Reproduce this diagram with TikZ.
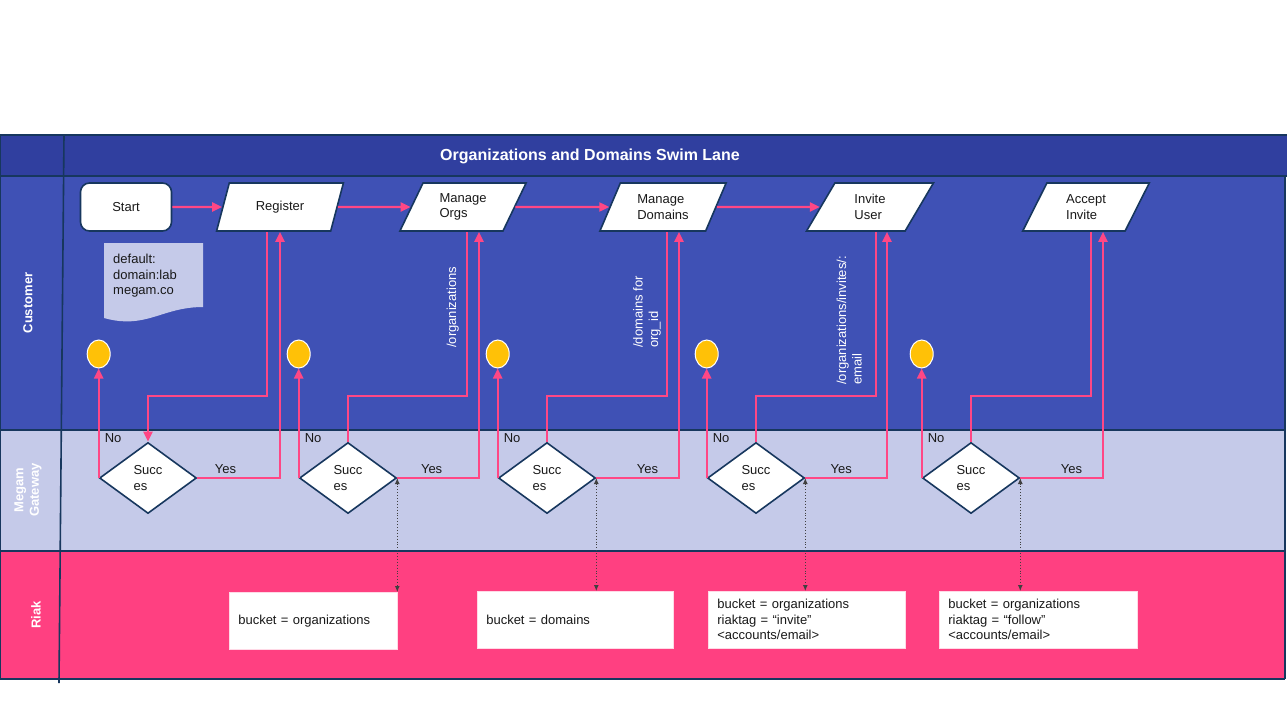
\documentclass[tikz,border=0pt]{standalone}
\usepackage{fontspec}
\setsansfont{Liberation Sans}
\RequirePackage{xcolor}
\tikzset{every picture/.style={/utils/exec={\sffamily}}}
\usetikzlibrary{calc}
\usetikzlibrary{positioning}
\usetikzlibrary{shapes.geometric}
\usetikzlibrary{arrows.meta}

\definecolor{headblue}{HTML}{303F9F}
\definecolor{custblue}{HTML}{3F51B5}
\definecolor{gatelilac}{HTML}{C5CAE9}
\definecolor{riakpink}{HTML}{FF4081}
\definecolor{edgenavy}{HTML}{17375E}
\definecolor{flowpink}{HTML}{FF4785}
\definecolor{dotyellow}{HTML}{FFC107}

\begin{document}
\begin{tikzpicture}[x=1pt, y=-1pt,
  every node/.style={font=\fontsize{13}{15.5}\selectfont, inner sep=0pt, text=black!90},
  lanetitle/.style={text=white, font=\fontsize{13}{15.5}\selectfont\bfseries, rotate=90, align=center},
  pathlabel/.style={text=white, rotate=90, align=left, anchor=south west},
  start/.style={draw=edgenavy, line width=1.6pt, fill=white, rounded corners=9pt, minimum width=91pt, minimum height=48pt},
  io/.style={trapezium, trapezium left angle=63.4, trapezium right angle=116.6, trapezium stretches=true, draw=edgenavy, line width=1.6pt, fill=white, minimum width=127pt, minimum height=48pt, align=left},
  decision/.style={diamond, draw=edgenavy, line width=1.6pt, fill=white, minimum width=97pt, minimum height=71pt, align=left},
  endpt/.style={ellipse, draw=white, line width=1pt, fill=dotyellow, minimum width=23pt, minimum height=28pt},
  store/.style={fill=white, draw=white!80!riakpink, line width=0.6pt, anchor=north west, align=left, text width=#1, inner xsep=9pt, minimum height=57pt},
  flow/.style={draw=flowpink, line width=2.3pt},
  flowarr/.style={flow, -{Triangle[length=10pt, width=9pt]}},
  link/.style={draw=black!75, dotted, line width=0.9pt, {Latex[length=6pt, width=5pt]}-{Latex[length=6pt, width=5pt]}}]

  \useasboundingbox (0,0) rectangle (1287,717);
  \fill[white] (0,0) rectangle (1287,717);

  % lanes
  \fill[headblue] (0,135) rectangle (1287,176);
  \fill[custblue] (0,176) rectangle (1285,430);
  \fill[gatelilac] (0,430) rectangle (1285,551);
  \fill[riakpink] (0,551) rectangle (1285,679);
  \draw[edgenavy, line width=1.6pt] (0,135) -- (1287,135) (0,176) -- (1287,176)
    (0,430) -- (1285,430) (0,551) -- (1285,551) (0,679) -- (1285,679)
    (0,135) -- (0,679) (1285,176) -- (1285,679);
  \draw[edgenavy, line width=1.6pt] (64,135) -- (59,683);

  \node[text=white, font=\fontsize{16}{18}\selectfont\bfseries] (title) at (590,156) {Organizations and Domains Swim Lane};
  \node[lanetitle] (customer) at (28,303) {Customer};
  \node[lanetitle] (gateway) at (28,490) {Megam\\Gateway};
  \node[lanetitle] (riak) at (36,615) {Riak};

  % note
  \fill[gatelilac] (104,243) -- (203,243) -- (203,307) .. controls (180,307) and (165,314) .. (150,318) .. controls (132,323) and (118,322) .. (104,318) -- cycle;
  \node[anchor=north west, align=left] (note) at (113,254) {default:\\domain:lab\\megam.co};

  % customer steps
  \node[start] (start) at (126,207) {Start};
  \node[io] (register) at (280,207) {Register};
  \node[io] (orgs) at (463,207) {Manage\\Orgs};
  \node[io] (domains) at (663,207) {Manage\\Domains};
  \node[io] (invite) at (870,207) {Invite\\User};
  \node[io] (accept) at (1086,207) {Accept\\Invite};

  % gateway checks
  \node[decision] (ok1) at (148,478) {Succ\\es};
  \node[decision] (ok2) at (348,478) {Succ\\es};
  \node[decision] (ok3) at (547,478) {Succ\\es};
  \node[decision] (ok4) at (756,478) {Succ\\es};
  \node[decision] (ok5) at (971,478) {Succ\\es};

  \coordinate (endrow) at (0,354);
  \coordinate (req) at (0,396);
  \node[endpt] (end1) at (ok1.west |- endrow) {};
  \node[endpt] (end2) at (ok2.west |- endrow) {};
  \node[endpt] (end3) at (ok3.west |- endrow) {};
  \node[endpt] (end4) at (ok4.west |- endrow) {};
  \node[endpt] (end5) at (ok5.west |- endrow) {};

  % riak buckets
  \node[store=150pt] (bucket1) at (229,592) {bucket = organizations};
  \node[store=178pt] (bucket2) at (477,591) {bucket = domains};
  \node[store=179pt] (bucket3) at (708,591) {bucket = organizations\\riaktag = “invite”\\<accounts/email>};
  \node[store=180pt] (bucket4) at (939,591) {bucket = organizations\\riaktag = “follow”\\<accounts/email>};

  % flow
  \draw[flowarr] (start.east) -- (register.west);
  \draw[flowarr] (register.east) -- (orgs.west);
  \draw[flowarr] (orgs.east) -- (domains.west);
  \draw[flowarr] (domains.east) -- (invite.west);

  \draw[flowarr] ([xshift=-13pt]register.south) |- (ok1.north |- req) -- (ok1.north);
  \draw[flow] ([xshift=4pt]orgs.south) |- (ok2.north |- req) -- (ok2.north);
  \draw[flow] ([xshift=4pt]domains.south) |- (ok3.north |- req) -- (ok3.north);
  \draw[flow] ([xshift=6pt]invite.south) |- (ok4.north |- req) -- (ok4.north);
  \draw[flow] ([xshift=5pt]accept.south) |- (ok5.north |- req) -- (ok5.north);

  \node[pathlabel] (orgspath) at (459,348) {/organizations};
  \node[pathlabel] (domainspath) at (661,348) {/domains for\\org\_id};
  \node[pathlabel] (invitepath) at (862,385) {/organizations/invites/:\\email};

  \draw[flowarr] (ok1.east) -| node[pos=0.17, above=3pt] {Yes} (register.south);
  \draw[flowarr] (ok2.east) -| node[pos=0.21, above=3pt] {Yes} ([xshift=16pt]orgs.south);
  \draw[flowarr] (ok3.east) -| node[pos=0.31, above=3pt] {Yes} ([xshift=16pt]domains.south);
  \draw[flowarr] (ok4.east) -| node[pos=0.22, above=3pt] {Yes} ([xshift=17pt]invite.south);
  \draw[flowarr] (ok5.east) -| node[pos=0.31, above=3pt] {Yes} ([xshift=17pt]accept.south);

  \draw[flowarr] (ok1.west) -- node[pos=0.36, right=5pt] {No} (end1);
  \draw[flowarr] (ok2.west) -- node[pos=0.36, right=5pt] {No} (end2);
  \draw[flowarr] (ok3.west) -- node[pos=0.36, right=5pt] {No} (end3);
  \draw[flowarr] (ok4.west) -- node[pos=0.36, right=5pt] {No} (end4);
  \draw[flowarr] (ok5.west) -- node[pos=0.36, right=5pt] {No} (end5);

  \draw[link] (ok2.east) -- (ok2.east |- bucket1.north);
  \draw[link] (ok3.east) -- (ok3.east |- bucket2.north);
  \draw[link] (ok4.east) -- (ok4.east |- bucket3.north);
  \draw[link] (ok5.east) -- (ok5.east |- bucket4.north);
\end{tikzpicture}
\end{document}
